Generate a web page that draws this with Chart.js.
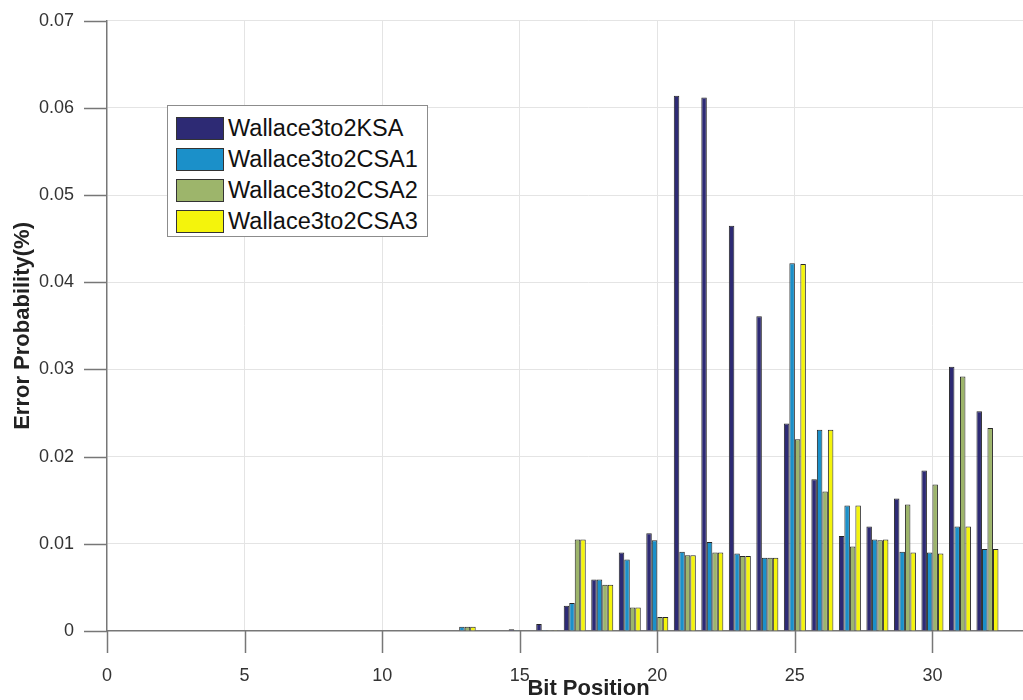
<!DOCTYPE html>
<html>
<head>
<meta charset="utf-8">
<script src="https://cdn.jsdelivr.net/npm/chart.js@4"></script>
<style>
    html, body { margin: 0; padding: 0; background: #fff; overflow: hidden; }
    #frame { position: relative; width: 1023px; height: 700px; overflow: hidden; }
    #chart-box { position: absolute; left: 0; top: 0; width: 1082px; height: 700px; }
    #legend {
        position: absolute; left: 167px; top: 105px; width: 261px; height: 132px;
        border: 1px solid #8c8c8c; background: #fff; box-sizing: border-box;
        padding-top: 7px;
    }
    .leg-row { height: 31px; display: flex; align-items: center; }
    .leg-swatch { width: 48px; height: 23px; margin-left: 8px; border: 1px solid #333; box-sizing: border-box; flex: none; }
    .leg-label { margin-left: 4px; font: 23.5px "Liberation Sans", Arial, sans-serif; color: #111; white-space: nowrap; }
</style>
</head>
<body>
<div id="frame">
    <div id="chart-box"><canvas id="errChart"></canvas></div>
    <div id="legend"></div>
</div>
<script>
// Bit positions 0..32
const bitPositions = [0, 1, 2, 3, 4, 5, 6, 7, 8, 9, 10, 11, 12, 13, 14, 15, 16,
    17, 18, 19, 20, 21, 22, 23, 24, 25, 26, 27, 28, 29, 30, 31, 32];

const seriesNames = ['Wallace3to2KSA', 'Wallace3to2CSA1', 'Wallace3to2CSA2', 'Wallace3to2CSA3'];

// Error probability (%) per bit position
const ksa = [0, 0, 0, 0, 0, 0, 0, 0, 0, 0, 0, 0, 0, 0, 0, 0.0002, 0.0008,
    0.0029, 0.0059, 0.0090, 0.0112, 0.0614, 0.0612, 0.0465, 0.0361, 0.0238, 0.0174,
    0.0109, 0.0120, 0.0152, 0.0184, 0.0303, 0.0252];
const csa1 = [0, 0, 0, 0, 0, 0, 0, 0, 0, 0, 0, 0, 0, 0.0005, 0, 0.0001, 0.0001,
    0.0032, 0.0059, 0.0082, 0.0104, 0.0091, 0.0102, 0.0089, 0.0084, 0.0422, 0.0231,
    0.0144, 0.0105, 0.0091, 0.0090, 0.0120, 0.0094];
const csa2 = [0, 0, 0, 0, 0, 0, 0, 0, 0, 0, 0, 0, 0, 0.0005, 0, 0.00005, 0.0001,
    0.0105, 0.0053, 0.0027, 0.0016, 0.0087, 0.0090, 0.0086, 0.0084, 0.0220, 0.0160,
    0.0097, 0.0104, 0.0145, 0.0168, 0.0292, 0.0233];
const csa3 = [0, 0, 0, 0, 0, 0, 0, 0, 0, 0, 0, 0, 0, 0.0005, 0, 0.00005, 0.0001,
    0.0105, 0.0053, 0.0027, 0.0016, 0.0087, 0.0090, 0.0086, 0.0084, 0.0421, 0.0231,
    0.0144, 0.0105, 0.0090, 0.0089, 0.0120, 0.0094];

const xTicks = [0, 5, 10, 15, 20, 25, 30];
const yTicks = [0, 0.01, 0.02, 0.03, 0.04, 0.05, 0.06, 0.07];

const COLORS = ['#2d2a74', '#1b90c9', '#9db56b', '#f4f40c'];
const AXIS_GRAY = '#777';
const FONT = '"Liberation Sans", Arial, sans-serif';

function toPoints(values) {
    return bitPositions.map((b, i) => ({ x: b, y: values[i] }));
}

function buildDatasets() {
    return [ksa, csa1, csa2, csa3].map((vals, i) => ({
        label: seriesNames[i],
        data: toPoints(vals),
        backgroundColor: COLORS[i],
        borderColor: '#262626',
        borderWidth: 1,
        categoryPercentage: 0.8,
        barPercentage: 1.0
    }));
}

function renderLegend(datasets) {
    const box = document.getElementById('legend');
    datasets.forEach(ds => {
        const row = document.createElement('div');
        row.className = 'leg-row';
        row.innerHTML = `
            <div class="leg-swatch" style="background:${ds.backgroundColor}"></div>
            <div class="leg-label">${ds.label}</div>
        `;
        box.appendChild(row);
    });
}

// outward tick marks, placed by the scales themselves
const tickMarks = {
    id: 'tickMarks',
    afterDraw(chart) {
        const { ctx, scales: { x, y } } = chart;
        ctx.save();
        ctx.strokeStyle = AXIS_GRAY;
        ctx.lineWidth = 1.5;
        ctx.beginPath();
        x.ticks.forEach(t => {
            if (t.value > 30) return;
            const px = Math.round(x.getPixelForValue(t.value)) + 0.5;
            ctx.moveTo(px, x.top);
            ctx.lineTo(px, x.top + 22);
        });
        y.ticks.forEach(t => {
            const py = Math.round(y.getPixelForValue(t.value)) + 0.5;
            ctx.moveTo(y.right - 23, py);
            ctx.lineTo(y.right, py);
        });
        ctx.stroke();
        ctx.restore();
    }
};

function init() {
    const datasets = buildDatasets();
    renderLegend(datasets);

    const ctx = document.getElementById('errChart').getContext('2d');
    new Chart(ctx, {
        type: 'bar',
        data: { datasets: datasets },
        plugins: [tickMarks],
        options: {
            responsive: true,
            maintainAspectRatio: false,
            animation: false,
            layout: { padding: { top: 19, right: 1, bottom: 0, left: 0 } },
            plugins: {
                legend: { display: false },
                tooltip: { enabled: false }
            },
            scales: {
                x: {
                    type: 'linear',
                    min: 0,
                    max: 35,
                    offset: false,
                    afterBuildTicks: s => { s.ticks = xTicks.concat([35]).map(v => ({ value: v })); },
                    afterFit: s => { s.height = 69; },
                    ticks: {
                        autoSkip: false,
                        maxRotation: 0,
                        padding: 12,
                        color: '#333',
                        font: { family: FONT, size: 18 },
                        callback: v => (v <= 30 ? String(v) : '')
                    },
                    grid: {
                        offset: false,
                        color: ctx => (ctx.tick && ctx.tick.value === 0 ? 'rgba(0,0,0,0)' : '#e4e4e4'),
                        drawTicks: true,
                        tickColor: 'rgba(0,0,0,0)',
                        tickLength: 22,
                        lineWidth: 1
                    },
                    border: { color: AXIS_GRAY, width: 1.5 },
                    title: {
                        display: true,
                        text: 'Bit Position',
                        color: '#222',
                        font: { family: FONT, size: 22, weight: 'bold', lineHeight: 1.0 },
                        padding: { top: 0, bottom: 0 }
                    }
                },
                y: {
                    min: 0,
                    max: 0.07,
                    afterBuildTicks: s => { s.ticks = yTicks.map(v => ({ value: v })); },
                    afterFit: s => { s.width = 107; },
                    ticks: {
                        padding: 10,
                        color: '#333',
                        font: { family: FONT, size: 18 },
                        callback: v => (v === 0 ? '0' : v.toFixed(2))
                    },
                    grid: {
                        color: ctx => (ctx.tick && ctx.tick.value === 0 ? 'rgba(0,0,0,0)' : '#e4e4e4'),
                        drawTicks: true,
                        tickColor: 'rgba(0,0,0,0)',
                        tickLength: 23,
                        lineWidth: 1
                    },
                    border: { color: AXIS_GRAY, width: 1.5 },
                    title: {
                        display: true,
                        text: 'Error Probability(%)',
                        color: '#222',
                        font: { family: FONT, size: 22, weight: 'bold', lineHeight: 1.0 },
                        padding: { top: 12, bottom: 0 }
                    }
                }
            }
        }
    });
}

window.addEventListener('DOMContentLoaded', init);
</script>
</body>
</html>
